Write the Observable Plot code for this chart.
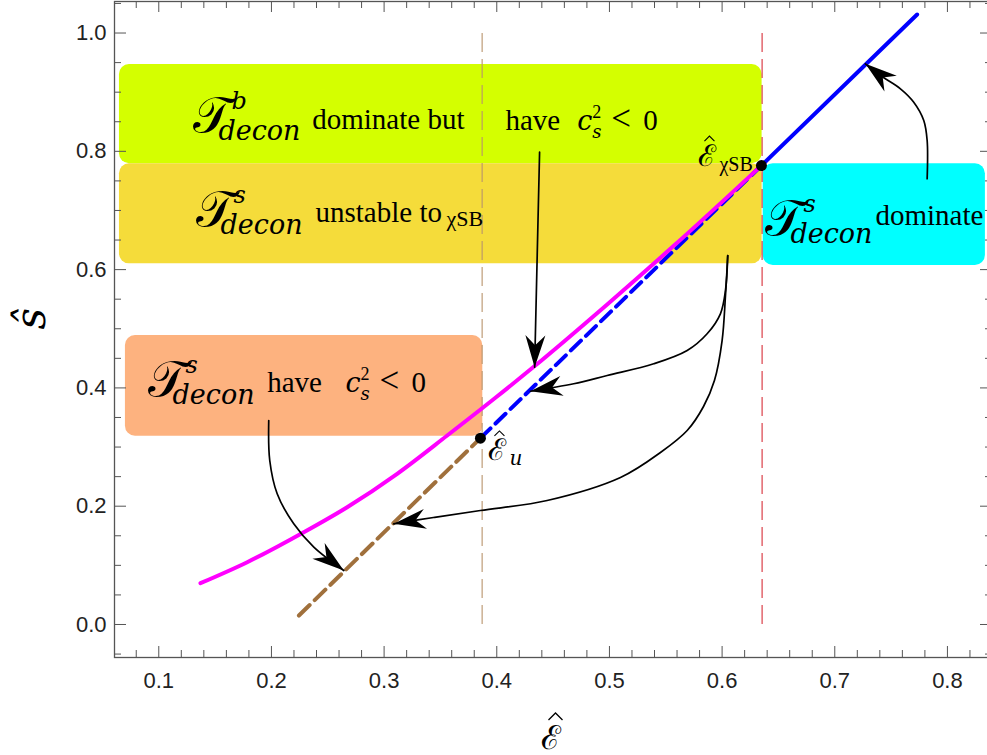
<!DOCTYPE html>
<html><head><meta charset="utf-8">
<script src="https://cdn.jsdelivr.net/npm/d3@7"></script>
<script src="https://cdn.jsdelivr.net/npm/@observablehq/plot@0.6"></script>
<style>html,body{margin:0;padding:0;background:#fff;overflow:hidden;}</style>
</head><body><div id="chart"></div>
<script>
// ---------------- data ----------------
const magentaX = [0.137, 0.1785, 0.2287, 0.2672, 0.3116, 0.3560, 0.3988, 0.4328, 0.4980, 0.5571, 0.6349];
const magentaY = [0.0698, 0.1053, 0.1560, 0.1983, 0.2548, 0.3195, 0.3833, 0.4357, 0.5412, 0.6402, 0.7760];
const brownX = [0.2244, 0.3855];
const brownY = [0.0152, 0.315];
const blueDashX = [0.3855, 0.6349];
const blueDashY = [0.315, 0.776];
const blueX = [0.6349, 0.7731];
const blueY = [0.776, 1.0313];
const pointX = [0.3855, 0.6349];
const pointY = [0.315, 0.776];
const vlineX = [0.387, 0.6355];
const vlineY1 = [0, 0];
const vlineY2 = [1.0, 1.0];

// shaded regions
const boxNames = ["green", "yellow", "cyan", "orange"];
const boxX1 = [0.0651, 0.0651, 0.6365, 0.0704];
const boxX2 = [0.6355, 0.6355, 0.8337, 0.3876];
const boxY1 = [0.779, 0.6098, 0.607, 0.3184];
const boxY2 = [0.9468, 0.779, 0.779, 0.4886];
const boxColors = ["#d4ff00", "#f5dc3a", "#00ffff", "#fdb27f"];

// annotation arrows (data coordinates)
const arrowCyan = [[0.7820,0.7535],[0.7820,0.8183],[0.7790,0.8521],[0.7701,0.8830],[0.7583,0.9057],[0.7405,0.9281],[0.7272,0.9479]];
const arrowGreen = [[0.4380,0.7986],[0.4336,0.4351]];
const arrowYellowA = [[0.6050,0.6238],[0.6030,0.5647],[0.5985,0.5253],[0.5867,0.4915],[0.5690,0.4632],[0.5393,0.4408],[0.4980,0.4210],[0.4683,0.4070],[0.4299,0.3944]];
const arrowYellowB = [[0.6050,0.6238],[0.6030,0.5562],[0.6000,0.4801],[0.5932,0.4125],[0.5835,0.3686],[0.5690,0.3280],[0.5453,0.2908],[0.5098,0.2485],[0.4447,0.2096],[0.3855,0.1927],[0.3438,0.1809],[0.3086,0.1702]];
const arrowOrange = [[0.1976,0.3449],[0.1985,0.2773],[0.2051,0.2210],[0.2198,0.1702],[0.2376,0.1307],[0.2642,0.0913]];

// text annotations
const tLabelX = [0.1308, 0.1326, 0.0900, 0.6385];
const tLabelY = [0.8183, 0.6610, 0.3736, 0.6458];
const tLabelSup = ["b", "s", "s", "s"];
const wordX = [0.2362, 0.2391, 0.4077, 0.1962, 0.7361];
const wordY = [0.8380, 0.6801, 0.8363, 0.3927, 0.6762];
const wordText = ["dominate but", "unstable to", "have", "have", "dominate"];
const chiSBX = [0.3553];
const chiSBY = [0.6745];
const csX = [0.4714, 0.2657];
const csY = [0.8363, 0.3939];
const pLabelX = [0.3926, 0.5790];
const pLabelY = [0.2773, 0.7760];
const pLabelSub = ["u", "χSB"];

const xMajor = [0.1, 0.2, 0.3, 0.4, 0.5, 0.6, 0.7, 0.8];
const xMinor = d3.range(4, 42).filter(i => i % 5 !== 0).map(i => i * 0.02);
const yMajor = [0, 0.2, 0.4, 0.6, 0.8, 1.0];
const yMinor = d3.range(-1, 22).filter(i => i % 4 !== 0).map(i => i * 0.05);

// ---------------- layout ----------------
const W = 992, H = 755, ML = 114, MR = 0, MT = 1, MB = 98;
const IW = W - ML - MR, IH = H - MT - MB;
const xDom = [0.0607, 0.8400], yDom = [-0.0558, 1.0533];
const kx = IW / (xDom[1] - xDom[0]), ky = IH / (yDom[1] - yDom[0]);

const fontSerif = "'Liberation Serif', 'DejaVu Serif', serif";
const fontMath = "'DejaVu Serif', 'Liberation Serif', serif";
const fontSans = "'Liberation Sans', Arial, sans-serif";

const pts = (xs, ys) => xs.map((x, i) => ({x, y: ys[i], i}));
const arrows = [arrowCyan, arrowGreen, arrowYellowA, arrowYellowB, arrowOrange];
const arrowLines = arrows.flatMap((a, id) => a.map(([x, y]) => ({x, y, id})));
const arrowTips = arrows.map(a => {
  const [x0, y0] = a[a.length - 2], [x1, y1] = a[a.length - 1];
  const dxp = (x1 - x0) * kx, dyp = -(y1 - y0) * ky;
  return {x: x1, y: y1, angle: Math.atan2(dxp, -dyp) * 180 / Math.PI};
});
const arrowHead = {draw(ctx) { ctx.moveTo(0, 0); ctx.lineTo(10, 32); ctx.lineTo(0, 22); ctx.lineTo(-10, 32); ctx.closePath(); }};
const hatSmall = {draw(ctx) { ctx.moveTo(-5, 2.5); ctx.lineTo(0, -2.5); ctx.lineTo(5, 2.5); }};
const hatLarge = {draw(ctx) { ctx.moveTo(-7, 3.5); ctx.lineTo(0, -3.5); ctx.lineTo(7, 3.5); }};

const tLabels = pts(tLabelX, tLabelY).map((d, i) => ({...d, sup: tLabelSup[i]}));
const words = pts(wordX, wordY).map((d, i) => ({...d, t: wordText[i]}));
const pLabels = pts(pLabelX, pLabelY).map((d, i) => ({...d, sub: pLabelSub[i]}));

const txt = (data, text, o = {}) => Plot.text(data, {x: "x", y: "y", text, textAnchor: "start", lineAnchor: "bottom", fill: "black", fontFamily: fontSerif, fontSize: 29, ...o});

const marks = [];
// shaded boxes
boxNames.forEach((n, i) => marks.push(Plot.rect([{x1: boxX1[i], x2: boxX2[i], y1: boxY1[i], y2: boxY2[i]}], {x1: "x1", x2: "x2", y1: "y1", y2: "y2", fill: boxColors[i], rx: 10})));
// vertical dashed lines
marks.push(Plot.ruleX([0], {x: () => vlineX[0], y1: () => vlineY1[0], y2: () => vlineY2[0], stroke: "#b8946c", strokeWidth: 1.1, strokeDasharray: "19,7"}));
marks.push(Plot.ruleX([0], {x: () => vlineX[1], y1: () => vlineY1[1], y2: () => vlineY2[1], stroke: "#d8303a", strokeWidth: 1.1, strokeDasharray: "19,7"}));
// frame ticks (inward, all four sides)
const tk = "#555";
marks.push(
  Plot.tickX(xMajor, {x: d => d, insetTop: IH - 11, stroke: tk}),
  Plot.tickX(xMinor, {x: d => d, insetTop: IH - 7, stroke: tk}),
  Plot.tickX(xMajor, {x: d => d, insetBottom: IH - 11, stroke: tk}),
  Plot.tickX(xMinor, {x: d => d, insetBottom: IH - 7, stroke: tk}),
  Plot.tickY(yMajor, {y: d => d, insetRight: IW - 12, stroke: tk}),
  Plot.tickY(yMinor, {y: d => d, insetRight: IW - 7, stroke: tk}),
  Plot.tickY(yMajor, {y: d => d, insetLeft: IW - 12, stroke: tk}),
  Plot.tickY(yMinor, {y: d => d, insetLeft: IW - 7, stroke: tk}),
  Plot.frame({stroke: tk, strokeWidth: 1.3}),
  Plot.axisX({ticks: xMajor, tickSize: 0, tickPadding: 15, tickFormat: d3.format(".1f"), fontSize: 22, fontFamily: fontSans, fill: "#222", label: null}),
  Plot.axisY({ticks: yMajor, tickSize: 0, tickPadding: 8, tickFormat: d3.format(".1f"), fontSize: 22, fontFamily: fontSans, fill: "#222", label: null})
);
// axis labels
marks.push(
  Plot.text(["ℰ"], {frameAnchor: "bottom", text: d => d, dx: -3, dy: 91, lineAnchor: "bottom", fontSize: 33, fontFamily: fontMath, fill: "black"}),
  Plot.dot([0], {x: null, y: null, frameAnchor: "bottom", dx: 2, dy: 59, symbol: hatLarge, r: 4, fill: "none", stroke: "black", strokeWidth: 1.3}),
  Plot.text(["ŝ"], {frameAnchor: "left", text: d => d, dx: -83, rotate: -90, fontSize: 42, fontStyle: "italic", fontFamily: fontMath, fill: "black"})
);
// curves
marks.push(
  Plot.line(pts(brownX, brownY), {x: "x", y: "y", stroke: "#a0703c", strokeWidth: 4, strokeDasharray: "15,7"}),
  Plot.line(pts(blueDashX, blueDashY), {x: "x", y: "y", stroke: "#0000ff", strokeWidth: 4, strokeDasharray: "14,7"}),
  Plot.line(pts(blueX, blueY), {x: "x", y: "y", stroke: "#0000ff", strokeWidth: 4}),
  Plot.line(pts(magentaX, magentaY), {x: "x", y: "y", stroke: "#ff00ff", strokeWidth: 4, curve: "monotone-x"})
);
// arrows
marks.push(
  Plot.line(arrowLines, {x: "x", y: "y", z: "id", curve: "catmull-rom", stroke: "black", strokeWidth: 1.7}),
  Plot.dot(arrowTips, {x: "x", y: "y", rotate: "angle", symbol: arrowHead, r: 5, fill: "black", stroke: "none"})
);
// special points
marks.push(Plot.dot(pts(pointX, pointY), {x: "x", y: "y", r: 5.5, fill: "black"}));
// region labels
marks.push(
  txt(tLabels, () => "𝒯", {dy: -8, fontSize: 50, fontFamily: fontMath}),
  txt(tLabels, "sup", {dx: 38, dy: -31, fontSize: 24, fontStyle: "italic", fontFamily: fontMath}),
  txt(tLabels, () => "decon", {dx: 25, fontSize: 27, fontStyle: "italic", fontFamily: fontMath}),
  txt(words, "t", {}),
  txt(pts(chiSBX, chiSBY), () => "χSB", {fontSize: 22}),
  txt(pts(csX, csY), () => "c", {fontStyle: "italic", fontFamily: fontMath, fontSize: 27}),
  txt(pts(csX, csY), () => "2", {dx: 15, dy: -12, fontSize: 18}),
  txt(pts(csX, csY), () => "s", {dx: 15, dy: 8, fontSize: 18, fontStyle: "italic", fontFamily: fontMath}),
  txt(pts(csX, csY), () => "<", {dx: 34, fontSize: 35}),
  txt(pts(csX, csY), () => "0", {dx: 66}),
  // point labels
  txt(pLabels, () => "ℰ", {fontSize: 30, fontFamily: fontMath}),
  Plot.dot(pLabels, {x: "x", y: "y", dx: 11, dy: -27, symbol: hatSmall, r: 3, fill: "none", stroke: "black", strokeWidth: 1.1}),
  txt(pLabels.filter(d => d.sub === "u"), "sub", {dx: 21, dy: 5, fontSize: 20, fontStyle: "italic", fontFamily: fontMath}),
  txt(pLabels.filter(d => d.sub !== "u"), "sub", {dx: 21, dy: 5, fontSize: 20})
);

const chart = Plot.plot({
  width: W, height: H,
  marginLeft: ML, marginRight: MR, marginTop: MT, marginBottom: MB,
  x: {domain: xDom},
  y: {domain: yDom},
  style: {maxWidth: "none", background: "white"},
  marks
});
document.getElementById("chart").appendChild(chart);
</script>
</body></html>
